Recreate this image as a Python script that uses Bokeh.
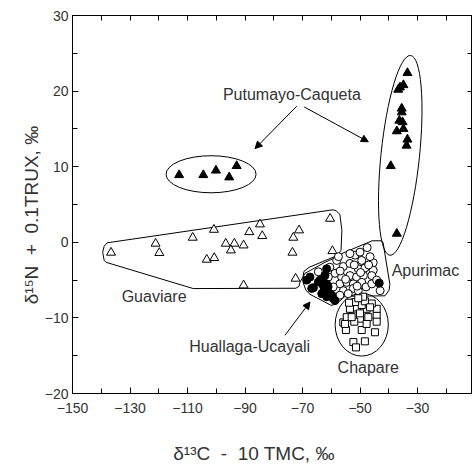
from bokeh.plotting import figure
from bokeh.models import (Range1d, LinearAxis, FixedTicker, Arrow, NormalHead, ColumnDataSource,
                          CustomLabelingPolicy)
from bokeh.core.properties import value
from bokeh.embed import file_html
from bokeh.resources import INLINE

# ---------------- data ----------------
# Putumayo-Caqueta (filled triangles)
put_x = [-112.9, -104.5, -100.1, -95.5, -92.9,
         -33.5, -34.9, -36.1, -36.7, -35.5, -35.5, -36.3, -35.2, -34.9, -37.2, -33.5, -33.8, -39.3, -37.2]
put_y = [8.9, 8.9, 9.5, 8.6, 10.1,
         22.4, 20.8, 20.5, 20.2, 17.7, 17.2, 16.1, 15.9, 15.0, 14.7, 13.6, 12.8, 10.1, 1.15]

# Guaviare (open triangles)
gua_x = [-136.6, -121.1, -119.8, -108.2, -100.8, -103.3, -100.7, -96.7, -93.7, -94.9, -90.5,
         -88.5, -84.8, -84.0, -90.5, -73.2, -71.2, -73.5, -72.4, -60.4, -59.6]
gua_y = [-1.36, -0.17, -1.4, 0.62, 1.67, -2.29, -2.07, -0.17, -0.17, -1.06, -0.4,
         1.36, 2.38, 0.84, -5.69, 0.62, 1.59, -1.36, -4.8, 3.13, -1.15]

# Apurimac (open circles)
apu_x = [-47.5, -51.7, -49.4, -45.4, -58.1, -55.8, -53.5, -50.6, -48.3, -45.4, -58.7, -56.4,
         -53.5, -51.2, -48.8, -45.9, -57.0, -54.6, -52.3, -49.4, -47.9, -43.0, -64.5, -59.3,
         -55.8, -52.3, -53.5, -50.0, -57.5, -46.5, -45.9, -50.6, -54.1, -57.0, -60.5, -56.9,
         -52.0, -49.8, -47.0, -55.0, -51.0, -44.2, -61.0]
apu_y = [-0.7, -1.7, -2.4, -2.7, -2.4, -3.2, -2.8, -3.5, -3.4, -3.7, -4.1, -4.6,
         -4.4, -4.6, -4.4, -4.4, -5.5, -5.3, -5.5, -5.3, -5.9, -6.4, -3.9, -5.9,
         -6.4, -6.1, -1.5, -1.3, -1.9, -1.9, -5.5, -6.4, -6.8, -7.0, -3.3, -3.8,
         -3.0, -4.0, -3.0, -4.9, -5.8, -5.0, -4.6]

# Huallaga-Ucayali (filled circles)
hua_x = [-68.5, -66.2, -64.5, -62.2, -61.6, -62.8, -60.4, -59.3, -61.1, -67.4, -66.8, -63.9,
         -62.8, -63.3, -61.6, -59.8, -58.7, -61.6, -43.3]
hua_y = [-5.0, -6.0, -5.25, -4.4, -5.5, -6.6, -6.8, -7.45, -5.9, -4.6, -6.1, -5.0,
         -5.7, -6.8, -7.2, -7.0, -7.7, -3.5, -5.4]

# Chapare (open squares)
cha_x = [-54.9, -55.8, -52.3, -51.4, -48.3, -49.4, -44.8, -54.6, -52.3, -50.0, -47.1, -44.2,
         -44.2, -44.2, -47.7, -51.1, -53.5, -49.4, -45.9, -51.7, -48.3, -53.8, -48.9, -50.6,
         -55.2, -52.0, -47.7, -52.9, -50.0, -46.5]
cha_y = [-11.6, -10.6, -13.2, -13.9, -13.1, -11.6, -11.9, -9.9, -9.7, -10.1, -9.9, -9.7,
         -8.8, -10.5, -8.8, -8.6, -8.8, -8.3, -8.1, -7.9, -7.8, -8.0, -7.2, -7.4,
         -10.8, -10.5, -10.8, -9.9, -9.4, -8.6]

x_ticks = [-150, -130, -110, -90, -70, -50, -30]
x_minor = [-140, -120, -100, -80, -60, -40, -20]
y_ticks = [-20, -10, 0, 10, 20, 30]
y_minor = [-15, -5, 5, 15, 25]

# group outlines
guav_px = [-138.0, -139.0, -139.5, -139.0, -138.3, -108.0, -72.3, -71.2, -70.9, -69.1, -62.2,
           -58.3, -56.6, -56.3, -57.0, -58.3, -59.4]
guav_py = [-0.07, -0.53, -1.32, -2.38, -2.65, -6.12, -6.08, -5.82, -5.29, -4.1, -2.65,
           -1.98, -1.06, 1.59, 3.70, 4.17, 4.3]
apu_px = [-69.8, -69.5, -67.7, -45.8, -42.7, -42.0, -39.6, -39.9, -41.3, -55.2, -58.3, -60.1,
          -67.4, -68.8, -69.8]
apu_py = [-4.50, -3.84, -3.31, 0.20, 0.20, 0.0, -5.56, -6.35, -7.08, -7.14, -8.20, -8.33,
          -6.88, -6.35, -5.29]

ell_x = [-101.8, -36.0, -49.4]
ell_y = [9.0, 11.5, -10.9]
ell_w = [31.3, 13.4, 18.5]
ell_h = [4.9, 26.6, 8.3]
ell_a = [0.0, -0.103, 0.0]

labels = ["Putumayo-Caqueta", "Guaviare", "Apurimac", "Huallaga-Ucayali", "Chapare"]
label_x = [-73.7, -132.9, -39.0, -109.4, -57.8]
label_y = [19.6, -7.2, -3.7, -13.8, -16.6]
label_align = ["center", "left", "left", "left", "left"]

arrow_x0 = [-72.0, -69.4, -76.1]
arrow_y0 = [18.0, 17.9, -12.3]
arrow_x1 = [-86.5, -47.1, -67.4]
arrow_y1 = [12.4, 13.3, -7.9]

# ---------------- figure ----------------
FONT = "Liberation Sans"
p = figure(output_backend="svg", toolbar_location=None,
           frame_width=400, frame_height=378,
           x_range=Range1d(-150, -150 + 400 / 2.875), y_range=Range1d(-20, 30),
           min_border_left=72, min_border_top=15, min_border_right=0, min_border_bottom=0,
           background_fill_color="white", border_fill_color="white")
p.grid.visible = False
p.outline_line_color = "black"
p.outline_line_width = 1

p.xaxis.ticker = FixedTicker(ticks=x_ticks, minor_ticks=x_minor)
p.yaxis.ticker = FixedTicker(ticks=y_ticks, minor_ticks=y_minor)
p.xaxis.axis_label = "δ¹³C \u00a0-\u00a0 10 TMC, ‰" + "\u00a0" * 7
p.yaxis.axis_label = "δ¹⁵N \u00a0+\u00a0 0.1TRUX, ‰" + "\u00a0" * 4

for ax in [p.xaxis[0], p.yaxis[0]]:
    ax.major_tick_in = 6
    ax.major_tick_out = 0
    ax.minor_tick_in = 5
    ax.minor_tick_out = 0
    ax.axis_line_color = "black"
    ax.major_tick_line_color = "black"
    ax.minor_tick_line_color = "black"
    ax.major_label_text_font = FONT
    ax.major_label_text_font_size = "14px"
    ax.major_label_text_color = "#333333"
    ax.axis_label_text_font = FONT
    ax.axis_label_text_font_size = "19px"
    ax.axis_label_text_font_style = "normal"
    ax.axis_label_text_color = "#333333"

p.xaxis.major_label_standoff = 9
p.xaxis.axis_label_standoff = 27
p.yaxis.major_label_standoff = 4
p.yaxis.axis_label_standoff = 0

no_labels = CustomLabelingPolicy(code="""
    const all = []
    for (const i of indices) all.push(i)
    for (const i of all) indices.unset(i)
    return indices
""")

for loc, tk in [("above", FixedTicker(ticks=x_ticks, minor_ticks=x_minor)),
                ("right", FixedTicker(ticks=y_ticks, minor_ticks=y_minor))]:
    ax = LinearAxis(ticker=tk)
    ax.major_tick_in = 5
    ax.major_tick_out = 0
    ax.minor_tick_in = 5
    ax.minor_tick_out = 0
    ax.major_label_text_font_size = "0px"
    ax.major_label_standoff = 0
    ax.major_label_policy = no_labels
    ax.axis_line_color = "black"
    p.add_layout(ax, loc)

# outlines
p.patch(guav_px, guav_py, fill_color=None, line_color="black", line_width=1)
p.patch(apu_px, apu_py, fill_color=None, line_color="black", line_width=1)
p.ellipse(x=ell_x, y=ell_y, width=ell_w, height=ell_h, angle=ell_a,
          fill_color=None, line_color="black", line_width=1)

# points
p.scatter(put_x, put_y, marker="triangle", size=9, fill_color="black", line_color="black")
p.scatter(gua_x, gua_y, marker="triangle", size=9, fill_color="white", line_color="black", line_width=1)
p.scatter(apu_x, apu_y, marker="circle", size=8, fill_color="white", line_color="black", line_width=1)
p.scatter(hua_x, hua_y, marker="circle", size=8, fill_color="black", line_color="black", line_width=1)
p.scatter(cha_x, cha_y, marker="square", size=7, fill_color="white", line_color="black", line_width=1)

# labels
src = ColumnDataSource(dict(x=label_x, y=label_y, t=labels, a=label_align))
p.text(x="x", y="y", text="t", text_align="a", text_baseline="middle", source=src,
       text_font=value(FONT), text_font_size="16px", text_color="#333333")

for i in range(len(arrow_x0)):
    p.add_layout(Arrow(end=NormalHead(size=7, fill_color="black", line_color="black", line_width=1),
                       x_start=arrow_x0[i], y_start=arrow_y0[i], x_end=arrow_x1[i], y_end=arrow_y1[i],
                       line_color="black", line_width=1))

open("out.html", "w").write(file_html(p, INLINE))
